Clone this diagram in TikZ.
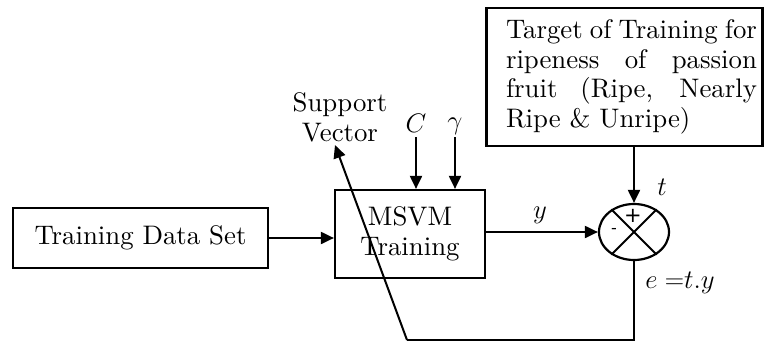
\RequirePackage{fix-cm}
\documentclass[tikz,border=0pt]{standalone}
\usepackage{fontspec}
\setmainfont{lmroman10-regular.otf}
\newfontfamily\pmfont{DejaVu Sans}
\usetikzlibrary{arrows.meta,shapes.geometric}
\begin{document}
\begin{tikzpicture}[x=1pt,y=-1pt,
  box/.style={draw, line width=2.2pt, inner sep=0pt, font=\fontsize{26.8}{30}\selectfont},
  arr/.style={line width=2pt, -{Triangle[length=13pt,width=12pt]}},
  lbl/.style={inner sep=0pt, font=\fontsize{26.8}{30}\selectfont},
  pm/.style={inner sep=0pt, font=\pmfont\fontsize{21}{23}\selectfont}]
\useasboundingbox (0,0) rectangle (764,343);
\node[box, minimum width=255pt, minimum height=60pt] (tds) at (140.5,238) {Training Data Set};
\node[box, minimum width=150pt, minimum height=88pt, align=center] (msvm) at (410,234) {MSVM\\Training};
\node[box, minimum width=276pt, minimum height=138pt] (tgt) at (624.5,77)
  {\hspace*{14pt}\parbox{251pt}{\fontsize{26.8}{29.5}\selectfont Target of Training for\linebreak ripeness of passion\linebreak fruit (Ripe, Nearly\linebreak Ripe \& Unripe)}};
\node[draw, ellipse, line width=2.2pt, minimum width=70pt, minimum height=56pt, inner sep=0pt] (sum) at (634,232) {};
\draw[line width=2pt] (sum.135) -- (sum.-45) (sum.45) -- (sum.-135);
\node[pm] (plus) at (633,216) {+};
\node[pm, font=\pmfont\fontsize{16}{18}\selectfont] (minus) at (614,231) {-};
\node[lbl, align=center] (sv) at (340,117) {Support\\Vector};
\node[lbl, anchor=base] (C) at (416,132) {$C$};
\node[lbl, anchor=base] (g) at (455,129) {$\gamma$};
\node[lbl] (ylab) at (540,215) {$y$};
\node[lbl] (tlab) at (662,187) {$t$};
\node[lbl] (elab) at (680,283) {$e\;{=}t.y$};
\coordinate (cin) at (416,137);
\coordinate (gin) at (455,137);
\coordinate (fb) at (407,340);
\coordinate (svtip) at (335,145);
\draw[arr] (tds.east) -- (tds.east -| msvm.west);
\draw[arr] (cin) -- (cin |- msvm.north);
\draw[arr] (gin) -- (gin |- msvm.north);
\draw[arr] (msvm.east |- sum.west) -- (sum.west);
\draw[arr] (sum.north |- tgt.south) -- (sum.north);
\draw[line width=1.2pt] (sum.south) |- (fb);
\draw[arr] (fb) -- (svtip);
\end{tikzpicture}
\end{document}
